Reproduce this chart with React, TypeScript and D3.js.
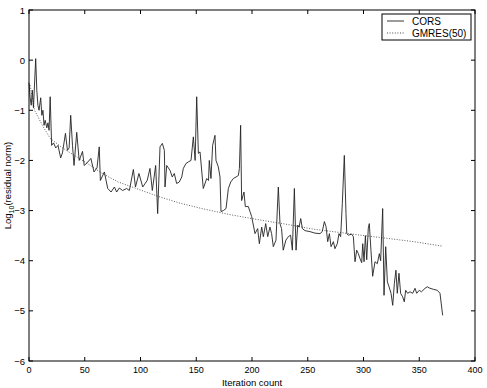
import React, { useEffect, useRef } from "react";
import * as d3 from "d3";

// iteration count vs log10(residual norm)
const corsIter = [
  0, 1, 2, 3, 4, 6, 7, 8, 9, 10.5, 11.5, 12.5, 13.5, 14.5, 16, 17, 18, 19, 20.3, 22, 24, 26, 28.4, 30,
  32.7, 34.5, 36, 37.4, 39, 40.4, 42.8, 45, 48, 49.5, 52, 55.5, 58.3, 61, 63, 64, 67.6, 70.6, 73.6,
  76.6, 78.6, 81, 84, 87.6, 90, 93.6, 95.5, 98.6, 102, 106, 108.5, 110.6, 113.6, 115.4, 117.5, 119.6,
  121.4, 122, 123.5, 126.5, 128.5, 130.3, 132.4, 134.8, 137, 138.4, 140.8, 142.9, 145.3, 147.4, 149,
  150.4, 151.9, 153.4, 156.3, 159.4, 161, 161.7, 163.2, 164.7, 166.8, 167.7, 169.8, 171.3, 172.2,
  174.3, 176.7, 178.8, 180.9, 183.3, 185.7, 187.8, 188.7, 189.8, 190.7, 192.8, 194, 196.7, 198.2,
  199.7, 202.7, 205.1, 206.6, 208.7, 210.2, 212.3, 214.1, 216.1, 217.6, 219.1, 221.5, 223.6, 225.1,
  226.5, 228, 230.4, 232.6, 234.6, 236.2, 238, 239.5, 241, 242.2, 243.7, 245.2, 247.5, 252, 256.5,
  261, 263, 264.9, 266.4, 267.9, 269.4, 270.9, 273, 274.4, 276.5, 278, 279.5, 281, 282.8, 284.3, 285,
  286.4, 289.4, 290.9, 292.4, 293.9, 295.4, 296.9, 298.4, 299.3, 300.5, 301.7, 302.9, 304.3, 305.2,
  306.7, 308.2, 310.3, 312.4, 314.2, 315.4, 317.2, 318.4, 319.9, 321.4, 322.9, 324.7, 326.2, 327.7,
  329.1, 330.3, 331.8, 333.3, 335.1, 336.6, 337.8, 339.6, 341.7, 344.1, 346.2, 347.7, 350, 352, 355.2,
  357.3, 359.6, 362.6, 366.2, 368.6, 371,
];
const corsLog = [
  -0.45, -0.75, -0.9, -0.6, -0.95, 0.03, -0.6, -0.9, -1.0, -0.75, -1.1, -1.0, -1.3, -1.2, -1.35, -1.25,
  -1.4, -0.73, -1.7, -1.65, -1.75, -1.7, -1.95, -1.85, -1.46, -1.8, -1.75, -1.1, -1.7, -2.1, -1.44,
  -2.0, -1.82, -2.1, -2.05, -1.96, -2.23, -2.15, -1.73, -2.4, -2.23, -2.56, -2.63, -2.53, -2.63, -2.55,
  -2.6, -2.56, -2.6, -2.18, -2.53, -2.26, -2.53, -2.4, -2.16, -2.6, -2.1, -3.06, -1.73, -1.66, -1.8,
  -2.53, -2.1, -2.2, -2.33, -2.26, -2.46, -2.43, -2.33, -2.16, -2.06, -2.03, -2.0, -1.53, -2.0, -0.73,
  -1.86, -1.83, -2.56, -2.36, -2.4, -2.0, -2.36, -1.7, -1.5, -2.0, -2.13, -2.33, -3.02, -3.0, -2.96,
  -2.56, -2.43, -2.36, -2.33, -2.3, -2.16, -1.3, -2.8, -2.63, -2.92, -2.92, -3.02, -3.12, -3.46, -3.36,
  -3.66, -3.33, -3.52, -3.26, -3.52, -3.33, -3.46, -3.72, -3.59, -2.53, -3.26, -3.36, -3.79, -3.59,
  -3.52, -3.49, -3.79, -2.56, -3.79, -3.29, -3.33, -3.16, -3.36, -3.4, -3.42, -3.45, -3.46, -3.42,
  -3.22, -3.32, -3.62, -3.46, -3.72, -3.62, -3.76, -3.66, -3.46, -3.52, -2.86, -1.9, -3.06, -3.46,
  -3.49, -3.47, -3.52, -4.02, -3.79, -3.86, -3.96, -4.04, -3.66, -4.02, -3.5, -3.98, -3.35, -3.26,
  -3.8, -4.31, -4.02, -4.06, -3.86, -4.0, -2.96, -4.69, -3.72, -4.42, -4.52, -4.65, -4.89, -4.45,
  -4.19, -4.65, -4.25, -4.65, -4.72, -4.82, -4.59, -4.65, -4.62, -4.65, -4.55, -4.65, -4.59, -4.62,
  -4.55, -4.52, -4.55, -4.57, -4.59, -4.65, -5.09,
];
const gmresIter = [1, 5, 12, 19, 30, 45, 55, 65, 80, 95, 115, 135, 157, 180, 205, 230, 255, 280, 297, 320, 345, 371];
const gmresLog = [-0.5, -1.0, -1.3, -1.56, -1.75, -1.96, -2.1, -2.25, -2.43, -2.55, -2.71, -2.85, -2.97, -3.08, -3.18, -3.27, -3.37, -3.44, -3.49, -3.55, -3.62, -3.71];

const xTicks = [0, 50, 100, 150, 200, 250, 300, 350, 400];
const yTicks = [-6, -5, -4, -3, -2, -1, 0, 1];
const seriesNames = ["CORS", "GMRES(50)"];

export default function App() {
  const svgRef = useRef<SVGSVGElement>(null);

  useEffect(() => {
    const W = 487, H = 388;
    const m = { left: 29, right: 12, top: 10, bottom: 27 };
    const svg = d3.select(svgRef.current).attr("width", W).attr("height", H);
    svg.selectAll("*").remove();

    const font = "'Liberation Sans', Arial, Helvetica, sans-serif";
    const x = d3.scaleLinear().domain([0, 400]).range([m.left, W - m.right]);
    const y = d3.scaleLinear().domain([-6, 1]).range([H - m.bottom, m.top]);

    svg.append("rect").attr("width", W).attr("height", H).attr("fill", "#fff");

    const line = d3.line<[number, number]>().x(d => x(d[0])).y(d => y(d[1]));

    // GMRES(50) dotted
    svg.append("path")
      .attr("d", line(gmresIter.map((v, i) => [v, gmresLog[i]] as [number, number])))
      .attr("fill", "none")
      .attr("stroke", "#333")
      .attr("stroke-width", 0.8)
      .attr("stroke-dasharray", "1,1.6");

    // CORS solid
    svg.append("path")
      .attr("d", line(corsIter.map((v, i) => [v, corsLog[i]] as [number, number])))
      .attr("fill", "none")
      .attr("stroke", "#222")
      .attr("stroke-width", 0.9);

    // box
    const x0 = x(0), x1 = x(400), y0 = y(-6), y1 = y(1);
    svg.append("rect")
      .attr("x", x0).attr("y", y1).attr("width", x1 - x0).attr("height", y0 - y1)
      .attr("fill", "none").attr("stroke", "#000").attr("stroke-width", 1);

    const tl = 4;
    const g = svg.append("g").attr("stroke", "#000").attr("stroke-width", 1);
    xTicks.forEach(t => {
      g.append("line").attr("x1", x(t)).attr("x2", x(t)).attr("y1", y0).attr("y2", y0 - tl);
      g.append("line").attr("x1", x(t)).attr("x2", x(t)).attr("y1", y1).attr("y2", y1 + tl);
    });
    yTicks.forEach(t => {
      g.append("line").attr("x1", x0).attr("x2", x0 + tl).attr("y1", y(t)).attr("y2", y(t));
      g.append("line").attr("x1", x1).attr("x2", x1 - tl).attr("y1", y(t)).attr("y2", y(t));
    });

    const fmt = (v: number) => (v < 0 ? "\u2212" + Math.abs(v) : String(v));
    svg.append("g").selectAll("text").data(xTicks).join("text")
      .attr("x", d => x(d)).attr("y", y0 + 12)
      .attr("text-anchor", "middle").attr("font-family", font).attr("font-size", 9)
      .text(d => String(d));
    svg.append("g").selectAll("text").data(yTicks).join("text")
      .attr("x", x0 - 4).attr("y", d => y(d) + 3.5)
      .attr("text-anchor", "end").attr("font-family", font).attr("font-size", 9.5)
      .text(d => fmt(d));

    svg.append("text")
      .attr("x", (x0 + x1) / 2).attr("y", H - 2)
      .attr("text-anchor", "middle").attr("font-family", font).attr("font-size", 9.5)
      .text("Iteration count");

    const yl = svg.append("text")
      .attr("transform", `translate(11,${(y0 + y1) / 2}) rotate(-90)`)
      .attr("text-anchor", "middle").attr("font-family", font).attr("font-size", 9.5);
    yl.append("tspan").text("Log");
    yl.append("tspan").attr("font-size", 7).attr("dy", 3).text("10");
    yl.append("tspan").attr("dy", -3).text("(residual norm)");

    // legend
    const lg = svg.append("g");
    lg.append("rect").attr("x", 382).attr("y", 14).attr("width", 89).attr("height", 26)
      .attr("fill", "#fff").attr("stroke", "#000").attr("stroke-width", 1);
    seriesNames.forEach((name, i) => {
      const ly = 21 + i * 12;
      lg.append("line").attr("x1", 387).attr("x2", 404).attr("y1", ly).attr("y2", ly)
        .attr("stroke", i === 0 ? "#222" : "#333").attr("stroke-width", 0.9)
        .attr("stroke-dasharray", i === 0 ? null : "1,1.6");
      lg.append("text").attr("x", 412).attr("y", ly + 3.5)
        .attr("font-family", font).attr("font-size", 10).text(name);
    });
  }, []);

  return <svg ref={svgRef} style={{ position: "absolute", left: 0, top: 0 }} />;
}
